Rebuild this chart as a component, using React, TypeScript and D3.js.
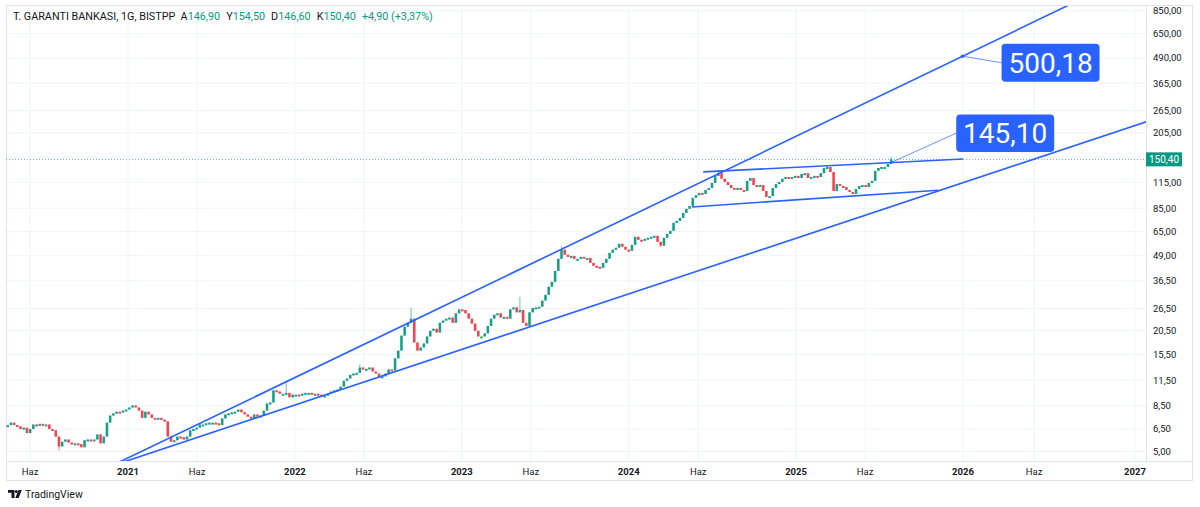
import React from "react";
import * as d3 from "d3";

const W = 1200;
const H = 507;
const plot = { left: 6, right: 1146, top: 6, bottom: 461, frameRight: 1192, frameBottom: 481 };

const UP = "#089981";
const DOWN = "#f23645";
const BLUE = "#2962ff";
const TEXT = "#131722";
const GRID = "#f0f3fa";
const BORDER = "#e0e3eb";
const FONT = "Roboto, 'Noto Sans', sans-serif";

// header
const symbolTitle = "T. GARANTI BANKASI, 1G, BISTPP";
const ohlcKeys = ["A", "Y", "D", "K"];
const ohlcValues = ["146,90", "154,50", "146,60", "150,40"];
const changeText = "+4,90 (+3,37%)";
const lastPrice = 150.4;
const lastPriceText = "150,40";

// weekly closes, first week starts 2020-04-13
const firstWeek = "2020-04-13";
const closes2020 = [
  6.8, 7.0, 6.8, 6.7, 6.5, 6.6, 6.2, 6.5, 6.85, 6.8,
  6.9, 6.8, 6.85, 6.5, 6.4, 5.95, 5.3, 5.6, 5.75, 5.55,
  5.5, 5.5, 5.45, 5.25, 5.7, 5.75, 5.7, 5.75, 6.1, 5.5,
  5.95, 7.0, 7.6, 7.8, 7.95, 7.9, 8.05, 8.15,
];
const closes2021 = [
  8.35, 8.55, 8.35, 8.05, 7.4, 7.95, 7.7, 7.4, 7.35, 7.4,
  7.25, 7.1, 5.95, 5.6, 5.7, 5.95, 5.9, 5.75, 5.95, 6.4,
  6.5, 6.6, 6.85, 6.85, 6.95, 7.0, 7.0, 6.95, 6.8, 7.35,
  7.7, 7.8, 7.9, 7.95, 8.15, 7.9, 7.7, 7.5, 7.35, 7.7,
  7.5, 7.6, 8.05, 8.75, 8.85, 10.2, 10.05, 9.8, 9.8, 9.9,
  9.4, 9.7,
];
const closes2022 = [
  9.7, 9.6, 9.8, 9.9, 9.9, 9.8, 9.8, 9.7, 9.5, 9.6,
  9.8, 10.05, 10.2, 10.3, 10.65, 11.4, 11.7, 12.2, 12.4, 12.5,
  13.3, 13.0, 13.1, 13.3, 12.7, 12.4, 11.8, 12.0, 12.4, 13.0,
  12.85, 14.8, 16.2, 19.3, 21.4, 22.4, 23.5, 17.8, 16.2, 16.8,
  17.6, 19.1, 20.4, 20.9, 20.0, 22.4, 23.0, 23.5, 23.8, 22.4,
  25.0, 26.2,
];
const closes2023 = [
  26.0, 25.0, 23.5, 22.2, 20.4, 19.1, 19.1, 19.8, 21.6, 23.5,
  24.6, 25.0, 23.8, 24.0, 23.5, 26.2, 26.8, 25.3, 26.0, 22.4,
  21.6, 25.3, 26.6, 26.8, 27.0, 29.0, 31.0, 34.1, 36.1, 41.0,
  47.2, 52.5, 49.5, 48.3, 48.8, 47.2, 47.2, 48.3, 47.7, 47.7,
  45.0, 43.5, 43.0, 42.5, 45.0, 47.2, 50.6, 52.5, 53.7, 56.2,
  54.3, 52.5,
];
const closes2024 = [
  51.8, 55.5, 61.0, 58.9, 58.2, 59.6, 60.3, 61.0, 61.7, 57.5,
  55.0, 60.3, 63.1, 65.4, 71.8, 73.4, 76.0, 80.5, 84.5, 87.4,
  96.0, 99.0, 101.7, 100.5, 105.3, 107.8, 114.2, 124.0, 128.0, 120.0,
  115.6, 111.5, 107.8, 106.5, 107.8, 105.3, 104.0, 117.0, 121.0, 111.5,
  110.3, 111.5, 104.0, 97.0, 98.0, 107.8, 112.8, 115.6, 120.0, 122.5,
  121.0, 122.5, 124.0,
];
const closes2025 = [
  121.0, 126.8, 128.0, 121.0, 122.5, 124.0, 122.5, 128.0, 136.0, 137.6,
  129.8, 104.0, 112.8, 110.3, 109.0, 105.3, 102.9, 100.5, 106.5, 110.3,
  111.5, 109.0, 114.2, 117.0, 131.5, 136.0, 137.6, 137.6, 142.5, 150.4,
];
// [week index, value] for the visible long wicks
const wickHighs = [[87, 11.3], [110, 13.8], [126, 26.7], [160, 30.3], [173, 54.5], [222, 131], [256, 141], [276, 154.5]];
const wickLows = [[16, 5.05], [204, 54]];

// price axis (155,00 sits under the last price badge)
const priceTicks = [850, 650, 490, 365, 265, 205, 155, 115, 85, 65, 49, 36.5, 26.5, 20.5, 15.5, 11.5, 8.5, 6.5, 5];
const hiddenTick = 155;
// time axis
const timeTickDates = ["2020-06-01", "2021-01-01", "2021-06-01", "2022-01-01", "2022-06-01", "2023-01-01", "2023-06-01",
  "2024-01-01", "2024-06-01", "2025-01-01", "2025-06-01", "2026-01-01", "2026-06-01", "2027-01-01"];
const timeTickLabels = ["Haz", "2021", "Haz", "2022", "Haz", "2023", "Haz", "2024", "Haz", "2025", "Haz", "2026", "Haz", "2027"];

// drawings: [date, price]
const channelUpper = [["2021-12-14", 11.3], ["2025-12-31", 500.18]];
const channelLower = [["2022-05-20", 11.0], ["2026-06-01", 151]];
const rangeTop = [["2024-06-12", 130], ["2026-01-01", 151]];
const rangeBottom = [["2024-05-18", 86.4], ["2025-11-08", 105]];
const calloutDates = ["2025-12-31", "2025-07-28"];
const calloutValues = [500.18, 145.1];
const calloutTexts = ["500,18", "145,10"];

const parse = d3.timeParse("%Y-%m-%d");
const fmt = (v: number) => d3.format(".2f")(v).replace(".", ",");

export default function App() {
  const x = d3.scaleTime()
    .domain([parse("2021-01-01")!, parse("2026-01-01")!, parse("2027-01-01")!])
    .range([128, 963, 1135]);
  const y = d3.scaleLog().domain([850, 5]).range([10.7, 451.5]);

  const closes = [...closes2020, ...closes2021, ...closes2022, ...closes2023, ...closes2024, ...closes2025];
  const start = parse(firstWeek)!;
  const hiMap = new Map(wickHighs.map((d) => [d[0], d[1]]));
  const loMap = new Map(wickLows.map((d) => [d[0], d[1]]));
  const candles = closes.map((c, i) => {
    const o = i === 0 ? c : closes[i - 1];
    const h = Math.max(o, c, hiMap.get(i) ?? 0);
    const l = Math.min(o, c, loMap.get(i) ?? Infinity);
    return { date: d3.timeWeek.offset(start, i), o, h, l, c };
  });
  const bw = 2.6;

  const extend = (pts: any[]) => {
    const x1 = x(parse(pts[0][0])!), y1 = y(pts[0][1]);
    const x2 = x(parse(pts[1][0])!), y2 = y(pts[1][1]);
    const k = (y2 - y1) / (x2 - x1);
    const xa = plot.left - 20, xb = plot.right + 20;
    return { x1: xa, y1: y1 + k * (xa - x1), x2: xb, y2: y1 + k * (xb - x1) };
  };
  const segment = (pts: any[]) => ({
    x1: x(parse(pts[0][0])!), y1: y(pts[0][1]),
    x2: x(parse(pts[1][0])!), y2: y(pts[1][1]),
  });
  const lines = [extend(channelUpper), extend(channelLower), segment(rangeTop), segment(rangeBottom)];

  const calloutBox = [
    { dx: 39, dy: -12.5, w: 98, h: 38 },
    { dx: 65, dy: -48, w: 98, h: 37.5 },
  ];

  const yLast = y(lastPrice);

  return (
    <svg width={W} height={H} style={{ position: "absolute", left: 0, top: 0, background: "#fff" }} fontFamily={FONT}>
      <defs>
        <clipPath id="plotClip">
          <rect x={plot.left} y={plot.top} width={plot.right - plot.left} height={plot.bottom - plot.top} />
        </clipPath>
      </defs>
      <rect width={W} height={H} fill="#fff" />

      {/* grid */}
      <g>
        {priceTicks.map((t) => (
          <line key={t} x1={plot.left} x2={plot.right} y1={y(t)} y2={y(t)} stroke={GRID} />
        ))}
        {timeTickDates.map((d) => (
          <line key={d} x1={x(parse(d)!)} x2={x(parse(d)!)} y1={plot.top} y2={plot.bottom} stroke={GRID} />
        ))}
      </g>

      {/* frame */}
      <rect x={plot.left + 0.5} y={plot.top - 0.5} width={plot.frameRight - plot.left} height={plot.frameBottom - plot.top}
        fill="none" stroke={BORDER} />
      <line x1={plot.right + 0.5} x2={plot.right + 0.5} y1={plot.top} y2={plot.bottom} stroke={BORDER} />
      <line x1={plot.left} x2={plot.frameRight} y1={plot.bottom + 0.5} y2={plot.bottom + 0.5} stroke={BORDER} />

      <g clipPath="url(#plotClip)">
        {/* last price line */}
        <line x1={plot.left} x2={plot.right} y1={yLast} y2={yLast} stroke={UP} strokeOpacity={0.7} strokeDasharray="1 2" />

        {/* candles */}
        {candles.map((d, i) => {
          const col = d.c >= d.o ? UP : DOWN;
          const cx = x(d.date);
          const top = y(Math.max(d.o, d.c));
          const hgt = Math.max(2, Math.abs(y(d.o) - y(d.c)));
          return (
            <g key={i}>
              <line x1={cx} x2={cx} y1={y(d.h)} y2={y(d.l)} stroke={col} strokeWidth={1} strokeOpacity={0.6} />
              <rect x={cx - bw / 2} y={top} width={bw} height={hgt} fill={col} fillOpacity={0.9} />
            </g>
          );
        })}

        {/* trend lines */}
        {lines.map((l, i) => (
          <line key={i} {...l} stroke={BLUE} strokeWidth={1.6} />
        ))}

        {/* callouts */}
        {calloutTexts.map((t, i) => {
          const ax = x(parse(calloutDates[i])!);
          const ay = y(calloutValues[i]);
          const b = calloutBox[i];
          const bx = ax + b.dx, by = ay + b.dy;
          return (
            <g key={t}>
              <line x1={ax} y1={ay} x2={bx} y2={by + b.h / 2} stroke={BLUE} strokeOpacity={0.7} strokeWidth={1} />
              {i === 0 && <circle cx={ax} cy={ay} r={1.8} fill={BLUE} />}
              <rect x={bx} y={by} width={b.w} height={b.h} rx={4} fill={BLUE} />
              <text x={bx + b.w / 2} y={by + b.h / 2 + 10} fill="#fff" fontSize={28} textAnchor="middle">{t}</text>
            </g>
          );
        })}
      </g>

      {/* price axis */}
      <g fontSize={9.5} fill={TEXT}>
        {priceTicks.filter((t) => t !== hiddenTick).map((t) => (
          <text key={t} x={plot.right + 7} y={y(t) + 3.5}>{fmt(t)}</text>
        ))}
      </g>
      <rect x={plot.right} y={yLast - 7} width={36} height={14} fill={UP} />
      <text x={plot.right + 18} y={yLast + 3.5} fontSize={10} fill="#fff" textAnchor="middle">{lastPriceText}</text>

      {/* time axis */}
      <g fontSize={9.5} fill={TEXT} textAnchor="middle">
        {timeTickDates.map((d, i) => (
          <text key={d} x={x(parse(d)!)} y={plot.bottom + 14} fontWeight={timeTickLabels[i] === "Haz" ? 400 : 700}>
            {timeTickLabels[i]}
          </text>
        ))}
      </g>

      {/* header */}
      <text x={13} y={20} fontSize={10.8} fill={TEXT}>
        <tspan>{symbolTitle}</tspan>
        {ohlcKeys.map((k, i) => (
          <React.Fragment key={k}>
            <tspan dx={6}>{k}</tspan>
            <tspan fill={UP}>{ohlcValues[i]}</tspan>
          </React.Fragment>
        ))}
        <tspan dx={6} fill={UP}>{changeText}</tspan>
      </text>

      {/* logo */}
      <g fill={TEXT}>
        <path d="M8 490 h6.5 v8 h-3 v-5.2 h-3.5 z" />
        <circle cx={16.3} cy={491.6} r={1.5} />
        <path d="M18.5 490 h3.3 l-3.2 8 h-3.3 z" />
      </g>
      <text x={25} y={498} fontSize={10.5} fill={TEXT}>TradingView</text>
    </svg>
  );
}
